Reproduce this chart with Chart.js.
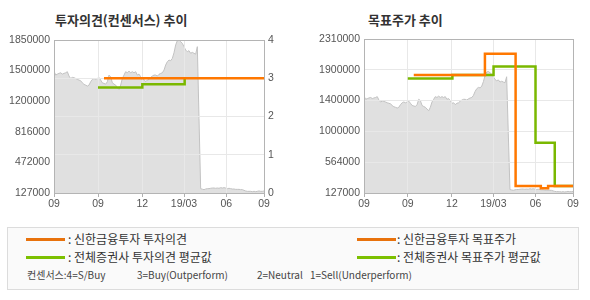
<!DOCTYPE html>
<html><head><meta charset="utf-8">
<script src="https://cdn.jsdelivr.net/npm/chart.js@4.4.1/dist/chart.umd.min.js"></script>
<style>
body{margin:0;background:#fff;width:590px;height:300px;overflow:hidden;position:relative;font-family:"Noto Sans CJK KR","Noto Sans",sans-serif;}
.title{position:absolute;top:11px;font-size:13px;font-weight:bold;color:#333;line-height:18px;white-space:nowrap;}
.cw{position:absolute;top:0;width:295px;height:215px;}
#legend{position:absolute;left:7px;top:227px;width:570px;height:61px;border:1px solid #dcdcdc;background:#fafafa;}
.row{position:absolute;font-size:12px;color:#333;line-height:16px;white-space:nowrap;}
.note{position:absolute;font-size:10px;color:#444;line-height:14px;white-space:nowrap;top:40px;}
.sw{position:absolute;height:3px;width:39px;}
</style></head>
<body>
<div class="title" style="left:55px">투자의견(컨센서스) 추이</div>
<div class="title" style="left:368px">목표주가 추이</div>
<div class="cw" style="left:0"><canvas id="c1" width="295" height="215"></canvas></div>
<div class="cw" style="left:295px"><canvas id="c2" width="295" height="215"></canvas></div>
<div id="legend">
  <div class="sw" style="left:18px;top:10px;background:#e8720c"></div>
  <div class="row" style="left:60px;top:3px">: 신한금융투자 투자의견</div>
  <div class="sw" style="left:18px;top:28px;background:#7cc000"></div>
  <div class="row" style="left:60px;top:21px">: 전체증권사 투자의견 평균값</div>
  <div class="sw" style="left:349px;top:10px;background:#e8720c"></div>
  <div class="row" style="left:389px;top:3px">: 신한금융투자 목표주가</div>
  <div class="sw" style="left:349px;top:28px;background:#7cc000"></div>
  <div class="row" style="left:389px;top:21px">: 전체증권사 목표주가 평균값</div>
  <div class="note" style="left:19px">컨센서스:4=S/Buy</div>
  <div class="note" style="left:129px">3=Buy(Outperform)</div>
  <div class="note" style="left:249px">2=Neutral</div>
  <div class="note" style="left:302px">1=Sell(Underperform)</div>
</div>
<script>
// ---- data ----
// share price samples (won), evenly spaced in time
const price = [
1500000,1455000,1466000,1474000,1481000,1466000,1474000,1481000,1493000,1444000,
1417000,1429000,1425000,1417000,1406000,1399000,1391000,1368000,1350000,1342000,
1331000,1342000,1380000,1406000,1417000,1406000,1417000,1429000,1399000,1368000,
1361000,1353000,1380000,1455000,1436000,1368000,1353000,1342000,1316000,1293000,
1342000,1417000,1455000,1493000,1481000,1500000,1481000,1493000,1481000,1493000,
1455000,1466000,1436000,1399000,1406000,1380000,1399000,1406000,1429000,1444000,
1455000,1455000,1444000,1463000,1474000,1481000,1511000,1568000,1606000,1624000,
1617000,1643000,1707000,1794000,1843000,1850000,1831000,1812000,1775000,1737000,
1718000,1730000,1700000,1711000,1700000,1690000,1775000,966000,176000,170000,
165000,172000,176000,176000,180000,183000,183000,180000,183000,180000,
187000,183000,187000,183000,176000,180000,176000,172000,172000,168000,
168000,168000,165000,165000,157000,150000,146000,146000,146000,142000,
146000,142000,146000,150000,146000,146000,150000
];
// x-axis tick dates (as sample index) and labels
const xTickIdx = [0, 26.4, 53, 78, 103.4, 126];
const xTickLabels = ['09', '09', '12', '19/03', '06', '09'];

// price axis tick labels
const opinionPriceTicks = ['127000', '472000', '816000', '1200000', '1500000', '1850000'];
const targetPriceTicks = ['127000', '564000', '1000000', '1400000', '1900000', '2310000'];
const opinionPriceMin = 127000, opinionPriceMax = 1850000;
const targetPriceMin = 127000, targetPriceMax = 2310000;

// investment opinion (0-4), change dates as sample index
const shinhanOpinionIdx = [30, 126];
const shinhanOpinion = [3, 3];
const avgOpinionIdx = [26.4, 53, 78.4];
const avgOpinion = [2.76, 2.84, 3.0];

// target price, change dates as sample index
const shinhanTargetIdx = [30, 72.9, 91.4, 106.6, 111, 126];
const shinhanTarget = [1800000, 2100000, 225000, 195000, 225000, 225000];
const avgTargetIdx = [26.4, 53.3, 78.1, 103.4, 115, 126];
const avgTarget = [1750000, 1800000, 1920000, 840000, 225000, 225000];

// ---- styles ----
const ORANGE = '#ff7800', GREEN = '#7ab800';
const TICK_FONT = {family: '"Liberation Sans", Arial, sans-serif', size: 10.5};
const TICK_COLOR = '#555';
const GRID = '#e8e8e8';

const pts = (xs, ys) => xs.map((x, i) => ({x: x, y: ys[i]}));
const pricePts = price.map((v, i) => ({x: i, y: v}));

const frame = {
  id: 'frame',
  afterDraw(chart) {
    const a = chart.chartArea, ctx = chart.ctx;
    ctx.save();
    ctx.strokeStyle = '#b4b4b4';
    ctx.lineWidth = 1;
    ctx.strokeRect(Math.round(a.left) + 0.5, Math.round(a.top) + 0.5,
                   Math.round(a.right - a.left), Math.round(a.bottom - a.top));
    ctx.restore();
  }
};
const gridOver = {
  id: 'gridOver',
  afterDatasetDraw(chart, args) {
    if (chart.data.datasets[args.index].label !== '주가') return;
    Object.values(chart.scales).forEach(s => {
      if (s.options.grid && s.options.grid.display) s.drawGrid(chart.chartArea);
    });
  }
};

function xScale() {
  return {
    type: 'linear', min: 0, max: price.length - 1,
    afterBuildTicks: s => { s.ticks = xTickIdx.map(v => ({value: v})); },
    ticks: {callback: (v, i) => xTickLabels[i], autoSkip: false, maxRotation: 0,
            font: TICK_FONT, color: TICK_COLOR, padding: 1},
    grid: {color: GRID, drawTicks: true, tickLength: 4, tickColor: '#b0b0b0'},
    border: {display: false},
    afterFit: s => { s.height = 22; }
  };
}
function priceScale(labels, min, max, width, showGrid) {
  return {
    type: 'linear', position: 'left', min: min, max: max,
    afterBuildTicks: s => {
      s.ticks = labels.map((_, k) => ({value: min + k * (max - min) / (labels.length - 1)}));
    },
    ticks: {callback: (v, i) => labels[i], font: TICK_FONT, color: TICK_COLOR, padding: 4, autoSkip: false},
    grid: {display: showGrid, color: GRID, drawTicks: false},
    border: {display: false},
    afterFit: s => { s.width = width; }
  };
}
const priceDataset = (axis) => ({
  label: '주가', data: pricePts, yAxisID: axis,
  borderColor: '#c2c2c2', borderWidth: 1, backgroundColor: '#e0e0e0',
  fill: 'start', pointRadius: 0, tension: 0, order: 5
});
const common = {
  responsive: false, animation: false, devicePixelRatio: 1,
  plugins: {legend: {display: false}, tooltip: {enabled: false}, title: {display: false}}
};

new Chart(document.getElementById('c1'), {
  type: 'line',
  data: {datasets: [
    {label: '신한금융투자 투자의견', data: pts(shinhanOpinionIdx, shinhanOpinion), yAxisID: 'y1',
     borderColor: ORANGE, borderWidth: 2.5, stepped: 'before', pointRadius: 0, order: 0},
    {label: '전체증권사 투자의견 평균값', data: pts(avgOpinionIdx, avgOpinion), yAxisID: 'y1',
     borderColor: GREEN, borderWidth: 2.5, stepped: 'before', pointRadius: 0, order: 1},
    priceDataset('y')
  ]},
  options: Object.assign({}, common, {
    layout: {padding: {top: 40, left: 0, right: 0, bottom: 0}},
    scales: {
      x: xScale(),
      y: priceScale(opinionPriceTicks, opinionPriceMin, opinionPriceMax, 54, false),
      y1: {
        type: 'linear', position: 'right', min: 0, max: 4,
        ticks: {stepSize: 1, font: TICK_FONT, color: TICK_COLOR, padding: 4},
        grid: {color: GRID, drawTicks: false},
        border: {display: false},
        afterFit: s => { s.width = 31; }
      }
    }
  }),
  plugins: [gridOver, frame]
});

new Chart(document.getElementById('c2'), {
  type: 'line',
  data: {datasets: [
    {label: '신한금융투자 목표주가', data: pts(shinhanTargetIdx, shinhanTarget), yAxisID: 'y',
     borderColor: ORANGE, borderWidth: 2.5, stepped: 'before', pointRadius: 0, order: 0},
    {label: '전체증권사 목표주가 평균값', data: pts(avgTargetIdx, avgTarget), yAxisID: 'y',
     borderColor: GREEN, borderWidth: 2.5, stepped: 'before', pointRadius: 0, order: 1},
    priceDataset('y')
  ]},
  options: Object.assign({}, common, {
    layout: {padding: {top: 39, left: 0, right: 17, bottom: 0}},
    scales: {
      x: xScale(),
      y: priceScale(targetPriceTicks, targetPriceMin, targetPriceMax, 69, true)
    }
  }),
  plugins: [gridOver, frame]
});
</script>
</body></html>
